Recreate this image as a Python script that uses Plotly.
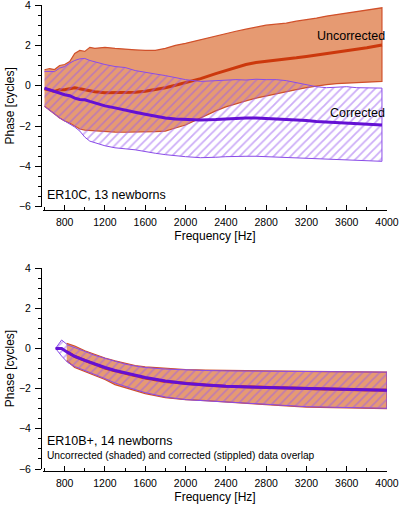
import plotly.graph_objects as go

# ---------------- data: top panel (ER10C, 13 newborns) ----------------
freq_top = [600, 650, 700, 750, 800, 850, 900, 950, 1000, 1050, 1100, 1200, 1300, 1400,
            1500, 1600, 1700, 1800, 1900, 2000, 2150, 2300, 2400, 2500, 2600, 2700, 2800,
            2900, 3000, 3100, 3200, 3300, 3400, 3500, 3600, 3700, 3800, 3950]

unc_upper_top = [0.79, 0.85, 0.8, 1.0, 1.05, 1.2, 1.6, 1.75, 1.7, 1.9, 1.85, 1.9, 1.85, 1.8,
                 1.78, 1.75, 1.75, 1.85, 2.0, 2.1, 2.28, 2.45, 2.6, 2.7, 2.8, 2.9, 3.0,
                 3.05, 3.1, 3.2, 3.27, 3.35, 3.45, 3.52, 3.6, 3.68, 3.75, 3.86]
unc_mean_top = [-0.15, -0.2, -0.28, -0.2, -0.2, -0.15, -0.1, -0.15, -0.2, -0.25, -0.3, -0.35, -0.35, -0.36,
                -0.33, -0.28, -0.2, -0.1, 0.02, 0.15, 0.35, 0.6, 0.75, 0.9, 1.05, 1.15, 1.2,
                1.25, 1.3, 1.38, 1.45, 1.52, 1.6, 1.66, 1.72, 1.8, 1.88, 2.02]
unc_lower_top = [-1.02, -1.2, -1.4, -1.6, -1.75, -1.85, -1.98, -2.15, -2.2, -2.22, -2.25, -2.27, -2.3, -2.31,
                 -2.31, -2.3, -2.28, -2.25, -2.1, -1.95, -1.6, -1.25, -1.05, -0.9, -0.75, -0.62, -0.53,
                 -0.4, -0.3, -0.2, -0.1, -0.02, 0.05, 0.1, 0.13, 0.16, 0.18, 0.21]

cor_upper_top = [0.71, 0.72, 0.7, 0.87, 0.95, 1.12, 1.25, 1.33, 1.35, 1.25, 1.18, 1.05, 0.95, 0.9,
                 0.75, 0.68, 0.58, 0.5, 0.4, 0.3, 0.21, 0.25, 0.28, 0.3, 0.28, 0.32, 0.3,
                 0.3, 0.25, 0.15, 0.05, -0.05, -0.1, -0.08, -0.05, -0.1, -0.12, -0.12]
cor_mean_top = [-0.12, -0.2, -0.3, -0.38, -0.45, -0.5, -0.62, -0.68, -0.7, -0.78, -0.85, -1.0, -1.1, -1.22,
                -1.32, -1.42, -1.52, -1.6, -1.65, -1.68, -1.7, -1.68, -1.65, -1.62, -1.6, -1.6, -1.62,
                -1.65, -1.66, -1.7, -1.73, -1.77, -1.8, -1.85, -1.88, -1.9, -1.93, -1.95]
cor_lower_top = [-1.02, -1.2, -1.4, -1.6, -1.75, -1.9, -2.05, -2.25, -2.55, -2.75, -2.85, -2.98, -3.08, -3.13,
                 -3.18, -3.25, -3.35, -3.42, -3.48, -3.52, -3.57, -3.55, -3.52, -3.5, -3.5, -3.5, -3.5,
                 -3.52, -3.55, -3.57, -3.6, -3.6, -3.62, -3.63, -3.65, -3.7, -3.72, -3.75]

# ---------------- data: bottom panel (ER10B+, 14 newborns) ----------------
freq_bot_unc = [820, 900, 1000, 1100, 1200, 1300, 1400, 1500, 1600, 1800, 2000, 2200, 2400,
                2800, 3200, 3600, 4000]
unc_upper_bot = [0.25, 0.12, -0.12, -0.3, -0.48, -0.62, -0.75, -0.85, -0.92, -1.0, -1.05, -1.08, -1.1,
                 -1.12, -1.14, -1.16, -1.18]
unc_mean_bot = [-0.15, -0.4, -0.6, -0.8, -0.98, -1.12, -1.25, -1.38, -1.48, -1.65, -1.75, -1.82, -1.88,
                -1.95, -2.0, -2.05, -2.08]
unc_lower_bot = [-0.6, -0.95, -1.15, -1.35, -1.55, -1.8, -1.95, -2.1, -2.25, -2.45, -2.55, -2.6, -2.65,
                 -2.8, -2.92, -2.97, -3.0]

freq_bot_cor = [710, 770, 830, 900, 1000, 1100, 1200, 1300, 1400, 1500, 1600, 1800, 2000, 2200,
                2400, 2800, 3200, 3600, 4000]
cor_upper_bot = [0, 0.42, 0.17, 0.05, -0.15, -0.35, -0.5, -0.65, -0.78, -0.88, -0.95, -1.03, -1.08, -1.1,
                 -1.12, -1.14, -1.16, -1.17, -1.18]
cor_mean_bot = [0, 0, -0.2, -0.4, -0.6, -0.78, -0.95, -1.1, -1.22, -1.35, -1.45, -1.62, -1.75, -1.82,
                -1.88, -1.95, -2.0, -2.05, -2.08]
cor_lower_bot = [0, -0.38, -0.7, -0.9, -1.1, -1.3, -1.5, -1.72, -1.9, -2.05, -2.2, -2.42, -2.55, -2.6,
                 -2.65, -2.78, -2.9, -2.95, -2.98]

x_tick_vals = [800, 1200, 1600, 2000, 2400, 2800, 3200, 3600, 4000]
y_tick_vals = [-6, -4, -2, 0, 2, 4]

# ---------------- styles ----------------
FONT = "Liberation Sans, Arial, Helvetica, sans-serif"
UNC_FILL = "#E69A72"
UNC_EDGE = "#D0502A"
UNC_LINE = "#CC380C"
COR_HATCH = "#9A5CF0"
COR_EDGE = "#8A4CE8"
COR_LINE = "#6410D4"

fig = go.Figure()


def add_panel(xa, ya, fu, uu, um, ul, fc, cu, cm, cl):
    fig.add_trace(go.Scatter(x=fu + fu[::-1], y=uu + ul[::-1], mode="lines", fill="toself",
                             fillcolor=UNC_FILL, line=dict(color=UNC_EDGE, width=1.2),
                             xaxis=xa, yaxis=ya, hoverinfo="skip"))
    fig.add_trace(go.Scatter(x=fu, y=um, mode="lines", line=dict(color=UNC_LINE, width=3),
                             xaxis=xa, yaxis=ya))
    fig.add_trace(go.Scatter(x=fc + fc[::-1], y=cu + cl[::-1], mode="lines", fill="toself",
                             fillcolor="rgba(0,0,0,0)",
                             fillpattern=dict(shape="/", fgcolor=COR_HATCH, bgcolor="rgba(0,0,0,0)",
                                              size=6, solidity=0.3),
                             line=dict(color=COR_EDGE, width=1),
                             xaxis=xa, yaxis=ya, hoverinfo="skip"))
    fig.add_trace(go.Scatter(x=fc, y=cm, mode="lines", line=dict(color=COR_LINE, width=3),
                             xaxis=xa, yaxis=ya))


add_panel("x", "y", freq_top, unc_upper_top, unc_mean_top, unc_lower_top,
          freq_top, cor_upper_top, cor_mean_top, cor_lower_top)
add_panel("x2", "y2", freq_bot_unc, unc_upper_bot, unc_mean_bot, unc_lower_bot,
          freq_bot_cor, cor_upper_bot, cor_mean_bot, cor_lower_bot)

H = 507.0
W = 400.0


def xaxis_cfg(pos):
    return dict(domain=[43 / W, 387 / W], range=[585, 4000], anchor="free", position=pos,
                automargin=False,
                showline=True, linecolor="black", linewidth=1, showgrid=False, zeroline=False,
                ticks="inside", ticklen=5, tickcolor="black", tickvals=x_tick_vals,
                ticklabelstandoff=3, ticklabeloverflow="allow",
                minor=dict(tickvals=list(range(600, 4001, 200)), ticks="inside", ticklen=3,
                           tickcolor="black"),
                tickfont=dict(family=FONT, size=10.5, color="black"),
                title=dict(text="Frequency [Hz]", font=dict(family=FONT, size=12, color="black"),
                           standoff=4))


def yaxis_cfg(dom):
    return dict(domain=dom, range=[-6, 4], anchor="free", position=41 / W,
                automargin=False,
                showline=True, linecolor="black", linewidth=1, showgrid=False, zeroline=False,
                ticks="outside", ticklen=6, tickcolor="black", tickvals=y_tick_vals,
                ticklabelstandoff=2, ticklabeloverflow="allow",
                minor=dict(dtick=0.5, tick0=0, ticks="outside", ticklen=3, tickcolor="black"),
                tickfont=dict(family=FONT, size=10.5, color="black"),
                title=dict(text="Phase [cycles]", font=dict(family=FONT, size=12, color="black"),
                           standoff=0))


fig.update_layout(
    width=400, height=507, margin=dict(l=0, r=0, t=0, b=0, autoexpand=False),
    paper_bgcolor="white", plot_bgcolor="white", showlegend=False,
    xaxis=xaxis_cfg(1 - 209.5 / H),
    yaxis=yaxis_cfg([1 - 206.7 / H, 1 - 5 / H]),
    xaxis2=xaxis_cfg(1 - 470.5 / H),
    yaxis2=yaxis_cfg([1 - 469 / H, 1 - 268 / H]),
    annotations=[
        dict(text="ER10C, 13 newborns", x=45 / W, y=1 - 195 / H, xref="paper", yref="paper",
             xanchor="left", yanchor="middle", showarrow=False,
             font=dict(family=FONT, size=12.5, color="black")),
        dict(text="Uncorrected", x=387 / W, y=1 - 36 / H, xref="paper", yref="paper",
             xanchor="right", yanchor="middle", showarrow=False,
             font=dict(family=FONT, size=12.5, color="black")),
        dict(text="Corrected", x=387 / W, y=1 - 113 / H, xref="paper", yref="paper",
             xanchor="right", yanchor="middle", showarrow=False,
             font=dict(family=FONT, size=12.5, color="black")),
        dict(text="ER10B+, 14 newborns", x=45 / W, y=1 - 441 / H, xref="paper", yref="paper",
             xanchor="left", yanchor="middle", showarrow=False,
             font=dict(family=FONT, size=12.5, color="black")),
        dict(text="Uncorrected (shaded) and corrected (stippled) data overlap", x=45 / W,
             y=1 - 455.5 / H, xref="paper", yref="paper",
             xanchor="left", yanchor="middle", showarrow=False,
             font=dict(family=FONT, size=10.2, color="black")),
    ],
)

# the page's default 8px body margin would shift the 400x507 figure; remove it
fig.write_html("out.html", config={"displayModeBar": False},
               post_script="document.body.style.margin='0px';")
